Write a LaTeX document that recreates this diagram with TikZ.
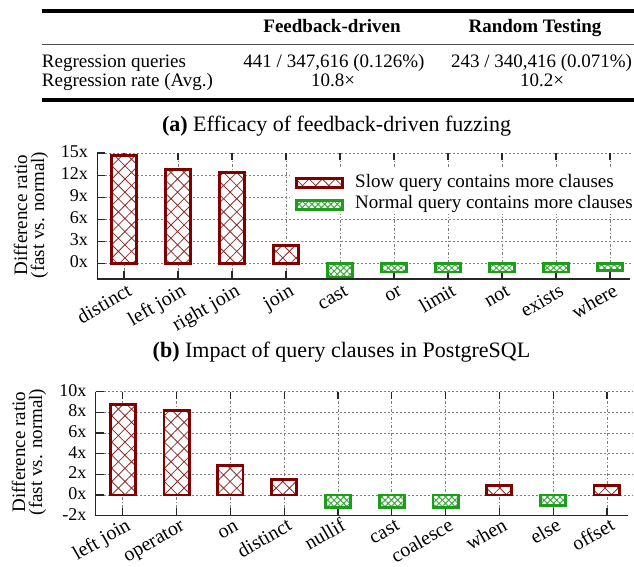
\documentclass[tikz,border=0pt]{standalone}
\usepackage{fontspec}
\setmainfont{Liberation Serif}
\usetikzlibrary{patterns.meta}
\definecolor{dkred}{RGB}{128,0,0}
\definecolor{hatchred}{RGB}{140,45,45}
\definecolor{dkgreen}{RGB}{28,158,28}
\definecolor{hatchgreen}{RGB}{60,170,60}
\begin{document}
\begin{tikzpicture}[x=1pt,y=-1pt,
  txt/.style={inner sep=0pt, text height=13pt, text depth=4pt, font=\fontsize{19}{22}\selectfont},
  captxt/.style={txt, font=\fontsize{22}{24}\selectfont},
  ticklab/.style={txt, anchor=east, font=\fontsize{18}{20}\selectfont},
  xlab/.style={inner sep=0pt, text height=12pt, text depth=2pt, rotate=30, anchor=north east, font=\fontsize{20}{22}\selectfont},
  ylab/.style={inner sep=0pt, rotate=90, align=center, font=\fontsize{19}{17}\selectfont},
  hgrid/.style={black!50, line width=0.6pt, dash pattern=on 2pt off 2pt},
  vgrid/.style={black!50, line width=0.6pt, dash pattern=on 3pt off 2pt on 1pt off 2pt},
  axisline/.style={black!85, line width=1.2pt},
  redbar/.style={draw=dkred, line width=2.8pt, preaction={fill=white},
    pattern={Hatch[angle=45,distance=9.3pt,line width=0.8pt]}, pattern color=hatchred},
  greenbar/.style={draw=dkgreen, line width=2.8pt, preaction={fill=white},
    pattern={Hatch[angle=45,distance=4.5pt,line width=1pt]}, pattern color=hatchgreen},
]
\useasboundingbox[fill=white] (0,0) rectangle (634,567);

% ---------------- table ----------------
\draw[line width=3.2pt] (41.7,11) -- (634,11);
\draw[line width=1.3pt, black!70] (41.7,44.3) -- (634,44.3);
\draw[line width=3.2pt] (41.7,100) -- (634,100);
\node[txt] (h1) at (332,28) {\textbf{Feedback-driven}};
\node[txt] (h2) at (535,28) {\textbf{Random Testing}};
\node[txt, anchor=west] (r1) at (41.7,62.7) {Regression queries};
\node[txt] (r1a) at (334,62.7) {441 / 347,616 (0.126\%)};
\node[txt] (r1b) at (541.5,62.7) {243 / 340,416 (0.071\%)};
\node[txt, anchor=west] (r2) at (41.7,81.7) {Regression rate (Avg.)};
\node[txt] (r2a) at (333,81.7) {10.8×};
\node[txt] (r2b) at (542,81.7) {10.2×};

% ---------------- chart (a) ----------------
\node[captxt] (capa) at (336.5,127) {\textbf{(a)} Efficacy of feedback-driven fuzzing};
\foreach \v in {0,3,...,15} {
  \draw[hgrid] (97.3,{263.3-7.35*\v}) -- (633,{263.3-7.35*\v});
  \draw[axisline] (97.3,{263.3-7.35*\v}) -- ++(8,0);
  \node[ticklab] (ya\v) at (88,{263.3-7.35*\v}) {\v x};
}
\foreach \i in {0,...,9} {
  \draw[vgrid] ({124+54*\i},279) -- ({124+54*\i},153.05);
  \draw[axisline] ({124+54*\i},279) -- ++(0,-8);
  \draw[axisline] ({124+54*\i},153.05) -- ++(0,7);
}
\draw[axisline] (97.3,153.05) -- (97.3,279) -- (630,279);
% legend background
\fill[white] (290,168) rectangle (634,214);
% bars
\foreach \c/\t in {124/155.4, 178/169.7, 232/172.1, 286/245.7} {
  \draw[redbar] (\c-12.6,\t) rectangle (\c+12.6,263.3);
}
\foreach \c/\b in {340/276.9, 394/271.9, 448/271.9, 502/271.9, 556/271.9, 610/270.3} {
  \draw[greenbar] (\c-12.6,263.3) rectangle (\c+12.6,\b);
}
\foreach \i/\l in {0/distinct, 1/left join, 2/right join, 3/join, 4/cast, 5/or, 6/limit, 7/not, 8/exists, 9/where} {
  \node[xlab] (xa\i) at ({124+54*\i+3},284) {\l};
}
\node[ylab] (ylaba) at (31,215) {Difference ratio\\(fast vs. normal)};
% legend
\draw[redbar] (296.4,178.2) rectangle (342.6,187.8);
\draw[greenbar] (296.4,200.2) rectangle (342.6,209.6);
\node[txt, anchor=west] (lg1) at (355,183) {Slow query contains more clauses};
\node[txt, anchor=west] (lg2) at (355,204) {Normal query contains more clauses};

% ---------------- chart (b) ----------------
\node[captxt] (capb) at (341.5,353) {\textbf{(b)} Impact of query clauses in PostgreSQL};
\foreach \v in {0,2,...,10} {
  \draw[hgrid] (95.7,{495-10.35*\v}) -- (633,{495-10.35*\v});
}
\foreach \v [count=\k] in {-2,0,2,...,10} {
  \draw[axisline] (95.7,{495-10.35*\v}) -- ++(8,0);
  \node[ticklab] (yb\k) at (86.5,{495-10.35*\v}) {\v x};
}
\foreach \i in {0,...,9} {
  \draw[vgrid] ({122.7+53.8*\i},515.7) -- ({122.7+53.8*\i},391.5);
  \draw[axisline] ({122.7+53.8*\i},515.7) -- ++(0,-8);
  \draw[axisline] ({122.7+53.8*\i},391.5) -- ++(0,7);
}
\draw[axisline] (95.7,391.5) -- (95.7,515.7) -- (628,515.7);
\foreach \c/\t in {122.7/404.7, 176.5/410.7, 230.3/465.4, 284.1/479.1, 499/485.4, 606.6/485.4} {
  \draw[redbar] (\c-12.6,\t) rectangle (\c+12.6,495);
}
\foreach \c/\b in {337.9/507.6, 391.7/507.6, 445.5/507.6, 552.8/505.3} {
  \draw[greenbar] (\c-12.6,495) rectangle (\c+12.6,\b);
}
\foreach \i/\l in {0/left join, 1/operator, 2/on, 3/distinct, 4/nullif, 5/cast, 6/coalesce, 7/when, 8/else, 9/offset} {
  \node[xlab] (xb\i) at ({122.7+53.8*\i+3},518.5) {\l};
}
\node[ylab] (ylabb) at (29,452) {Difference ratio\\(fast vs. normal)};
\end{tikzpicture}
\end{document}
